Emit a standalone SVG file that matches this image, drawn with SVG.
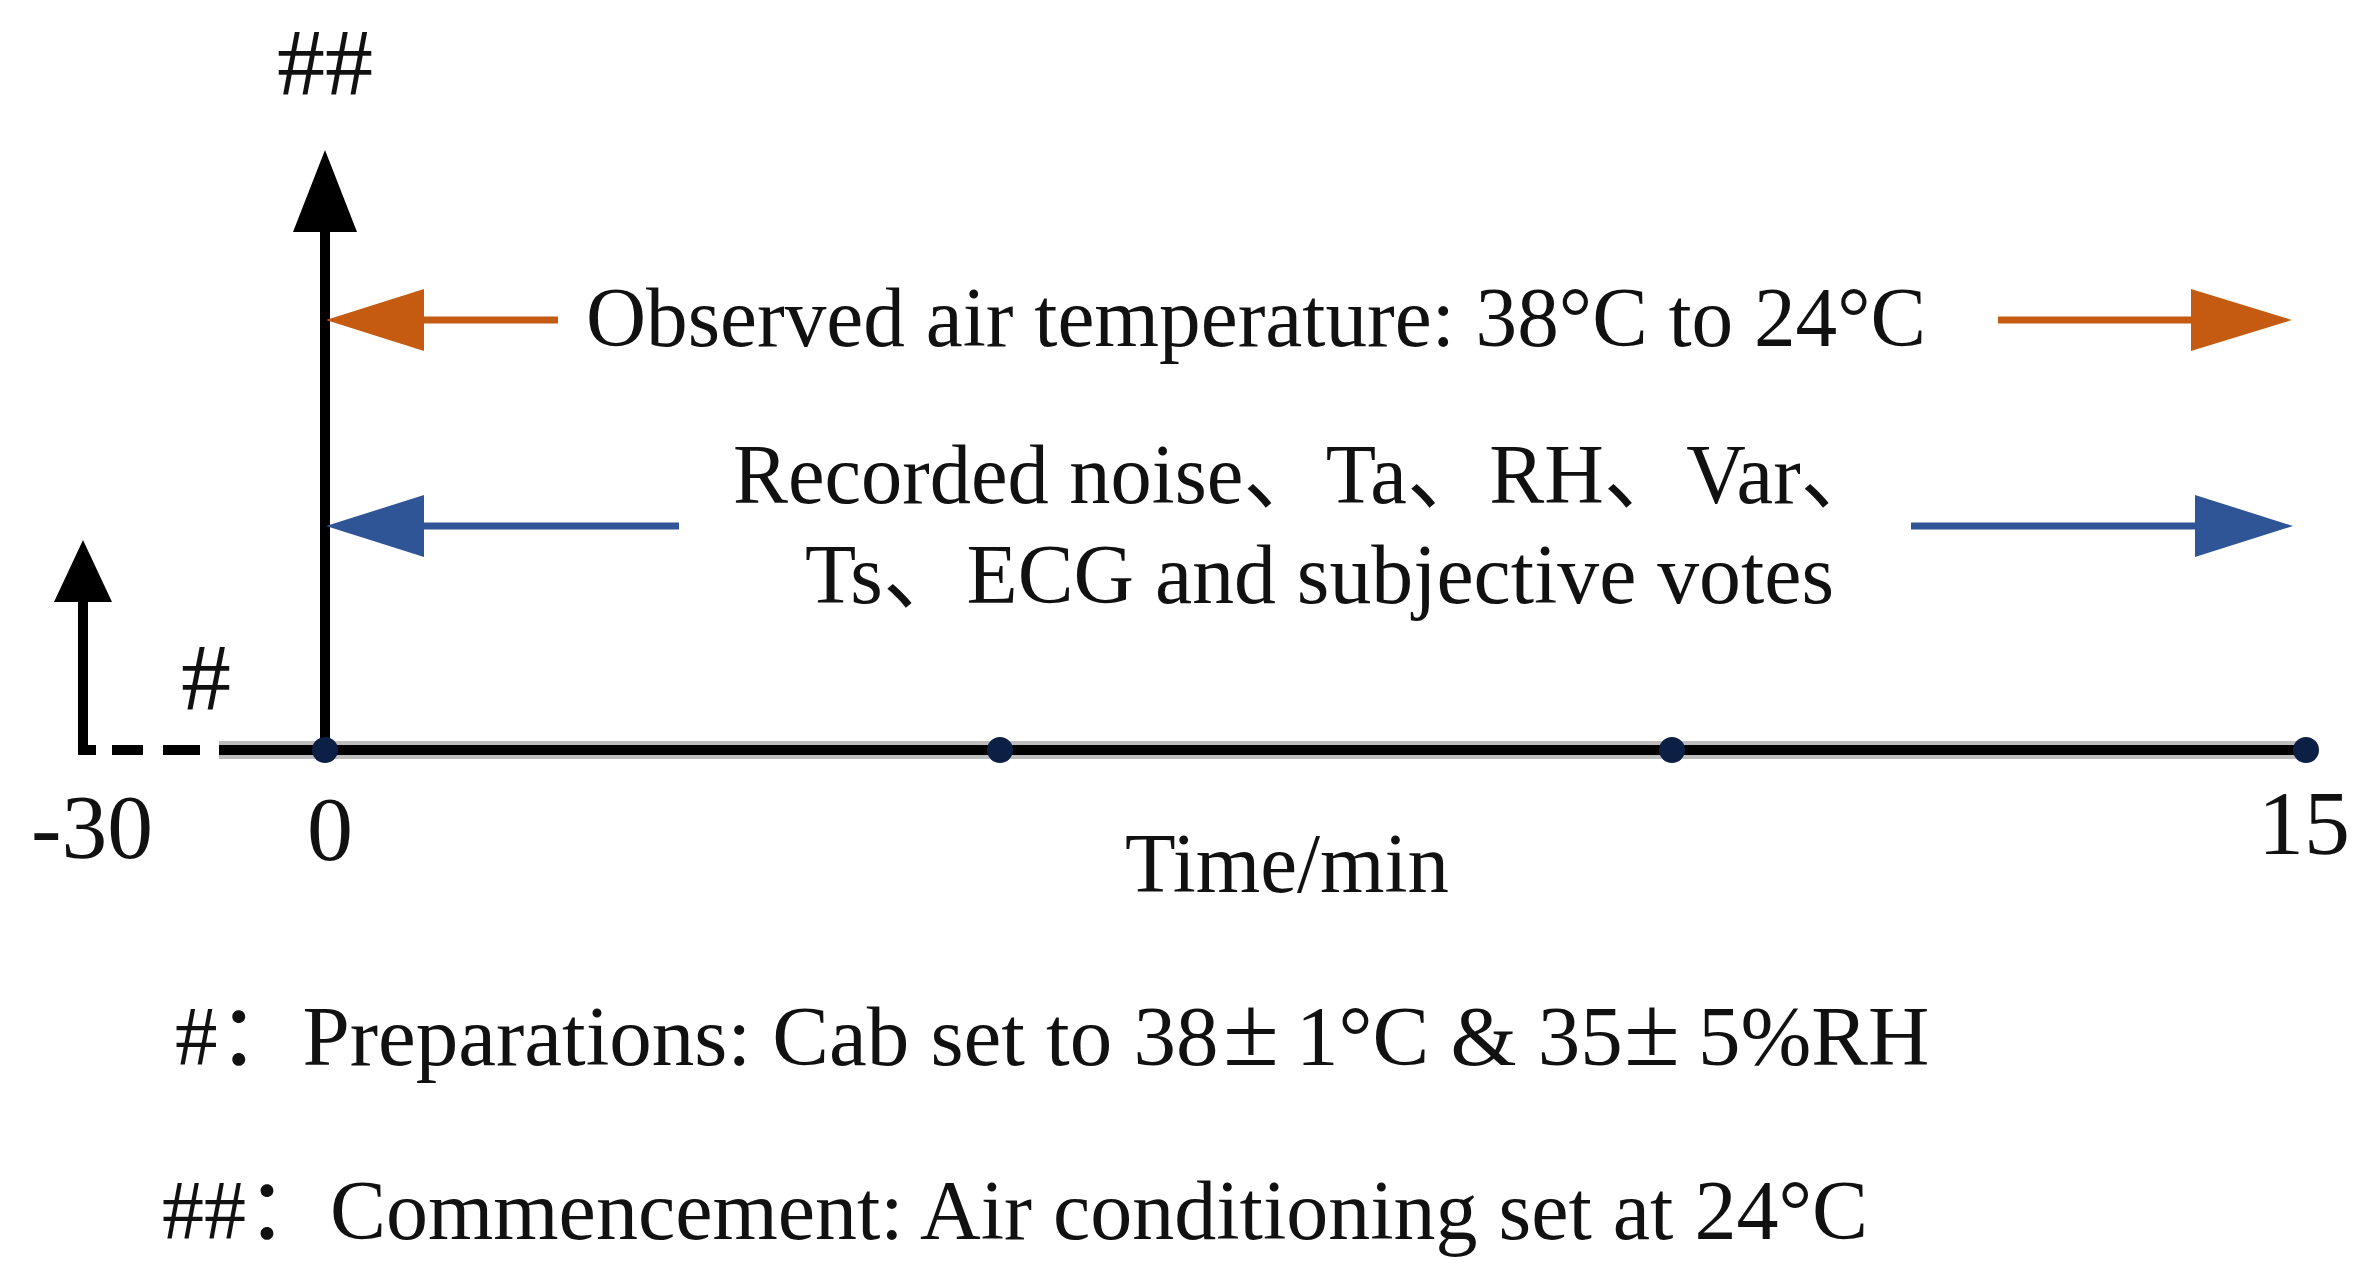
<svg xmlns="http://www.w3.org/2000/svg" width="2371" height="1284" viewBox="0 0 2371 1284">
<style>
  text { font-family: "Liberation Serif", "Noto Sans CJK SC", serif; fill: #111; }
  .lbl { font-size: 85px; }
  .pm { font-size: 102px; }
  .hash { font-size: 96px; }
  .tick { font-size: 92px; }
  .axis { stroke: #000; stroke-width: 10; fill: none; }
  .halo { stroke: #bdbdbd; stroke-width: 18; fill: none; }
  .head { fill: #000; }
  .orange { stroke: #c55a11; stroke-width: 7; fill: none; }
  .orangeHead { fill: #c55a11; }
  .blue { stroke: #2f5597; stroke-width: 7; fill: none; }
  .blueHead { fill: #2f5597; }
  .dot { fill: #0c1f45; }
</style>
<rect width="2371" height="1284" fill="#ffffff"/>

<g id="connectors">
  <!-- timeline axis -->
  <line class="halo" x1="219" y1="750" x2="2306" y2="750"/>
  <line class="axis" x1="219" y1="750" x2="2306" y2="750"/>
  <!-- dashed preparation segment -->
  <path class="axis" d="M78 750 H96 M112 750 H143 M163 750 H200"/>
  <!-- preparation up arrow -->
  <line class="axis" x1="83" y1="755" x2="83" y2="600"/>
  <polygon class="head" points="83,540 54,602 112,602"/>
  <!-- commencement up arrow (vertical axis at 0) -->
  <line class="axis" x1="325" y1="755" x2="325" y2="230"/>
  <polygon class="head" points="325,150 293,232 357,232"/>
  <!-- observed air temperature arrows -->
  <line class="orange" x1="422" y1="320" x2="558" y2="320"/>
  <polygon class="orangeHead" points="326,320 424,289 424,351"/>
  <line class="orange" x1="1998" y1="320" x2="2193" y2="320"/>
  <polygon class="orangeHead" points="2292,320 2191,289 2191,351"/>
  <!-- recorded measurements arrows -->
  <line class="blue" x1="422" y1="526" x2="679" y2="526"/>
  <polygon class="blueHead" points="326,526 424,495 424,557"/>
  <line class="blue" x1="1911" y1="526" x2="2197" y2="526"/>
  <polygon class="blueHead" points="2293,526 2195,495 2195,557"/>
</g>

<g id="tick-dots">
  <circle class="dot" cx="325" cy="750" r="13"/>
  <circle class="dot" cx="1000" cy="750" r="13"/>
  <circle class="dot" cx="1672" cy="750" r="13"/>
  <circle class="dot" cx="2306" cy="750" r="13"/>
</g>

<g id="commencement-label">
  <text class="hash" x="277" y="95" textLength="96" lengthAdjust="spacingAndGlyphs">##</text>
</g>
<g id="preparation-label">
  <text class="hash" x="181" y="710" textLength="50" lengthAdjust="spacingAndGlyphs">#</text>
</g>

<g id="observed-temperature">
  <text class="lbl" x="586" y="346" textLength="1340" lengthAdjust="spacingAndGlyphs">Observed air temperature: 38°C to 24°C</text>
</g>

<g id="recorded-measurements">
  <text class="lbl" x="733" y="503" textLength="1150" lengthAdjust="spacingAndGlyphs">Recorded noise、Ta、RH、Var、</text>
  <text class="lbl" x="805" y="603" textLength="1029" lengthAdjust="spacingAndGlyphs">Ts、ECG and subjective votes</text>
</g>

<g id="axis-labels">
  <text class="tick" x="31" y="858" textLength="122" lengthAdjust="spacingAndGlyphs">-30</text>
  <text class="tick" x="330" y="860" text-anchor="middle">0</text>
  <text class="tick" x="2304" y="854" text-anchor="middle">15</text>
  <text class="lbl" x="1125" y="892" textLength="324" lengthAdjust="spacingAndGlyphs">Time/min</text>
</g>

<g id="legend">
  <text class="lbl" y="1065"><tspan x="175">#：Preparations: Cab set to 38</tspan><tspan class="pm" x="1223">±</tspan><tspan x="1296">1°C &amp; 35</tspan><tspan class="pm" x="1624">±</tspan><tspan x="1698">5%RH</tspan></text>
  <text class="lbl" x="162" y="1239" textLength="1706" lengthAdjust="spacingAndGlyphs">##：Commencement: Air conditioning set at 24°C</text>
</g>
</svg>
